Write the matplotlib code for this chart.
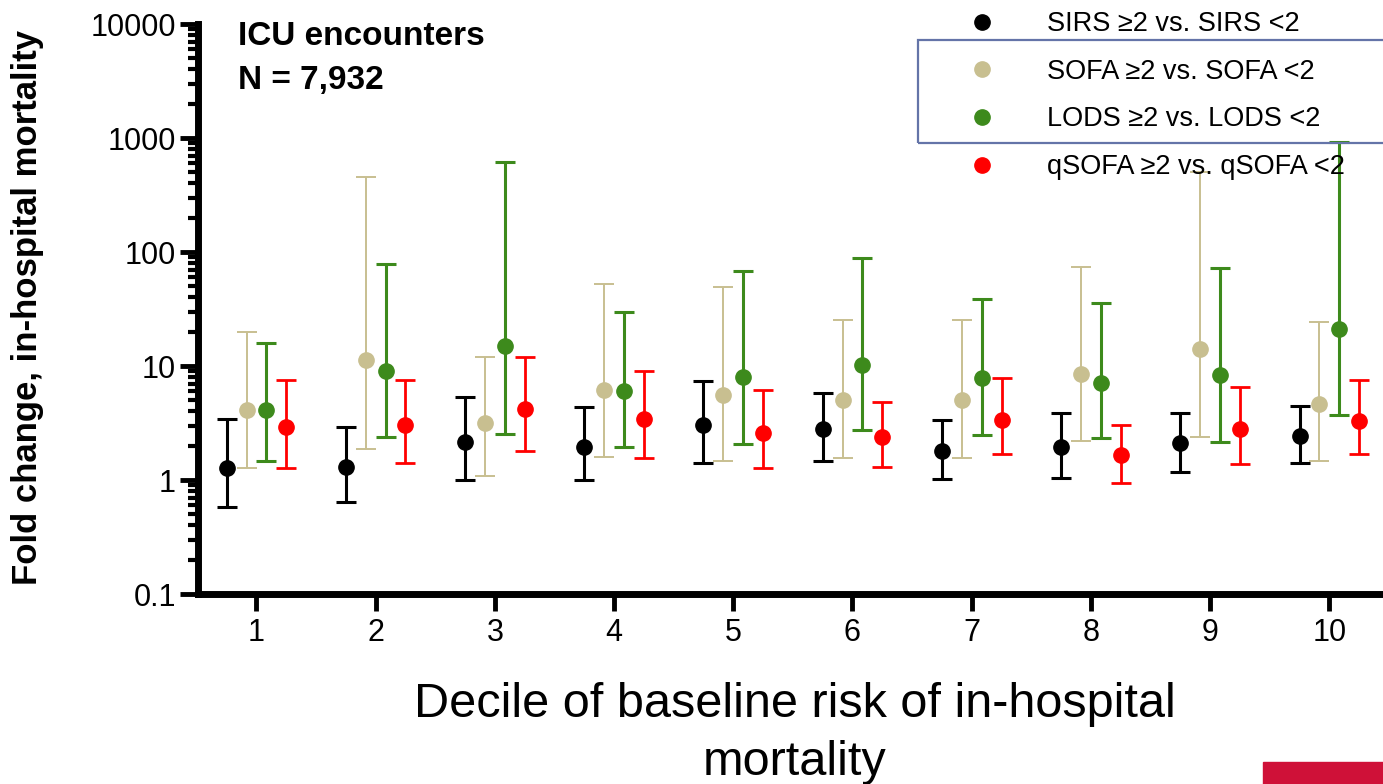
import matplotlib
matplotlib.use("Agg")
import matplotlib.pyplot as plt
from matplotlib.lines import Line2D
from matplotlib.patches import Rectangle
from matplotlib.ticker import LogLocator, NullFormatter
import numpy as np

plt.rcParams['font.family'] = ['Liberation Sans', 'DejaVu Sans']

deciles = [1, 2, 3, 4, 5, 6, 7, 8, 9, 10]

sirs_mid = [1.28, 1.31, 2.15, 1.96, 3.05, 2.79, 1.81, 1.96, 2.10, 2.44]
sirs_lo = [0.58, 0.64, 1.00, 0.99, 1.42, 1.47, 1.03, 1.05, 1.18, 1.42]
sirs_hi = [3.46, 2.94, 5.3, 4.33, 7.4, 5.8, 3.37, 3.86, 3.86, 4.5]

sofa_mid = [4.13, 11.2, 3.16, 6.2, 5.6, 5.06, 5.06, 8.5, 14.1, 4.67]
sofa_lo = [1.27, 1.87, 1.08, 1.6, 1.47, 1.55, 1.57, 2.22, 2.4, 1.47]
sofa_hi = [19.8, 453, 11.9, 52.8, 49, 25.2, 25.2, 74, 500, 24.3]

lods_mid = [4.13, 9.1, 14.9, 6.0, 7.96, 10.3, 7.85, 7.1, 8.4, 21.2]
lods_lo = [1.47, 2.38, 2.54, 1.94, 2.06, 2.76, 2.49, 2.33, 2.15, 3.68]
lods_hi = [16, 78, 614, 29.7, 68, 89, 39, 35.9, 73, 930]

qsofa_mid = [2.89, 3.05, 4.19, 3.42, 2.61, 2.4, 3.37, 1.66, 2.79, 3.26]
qsofa_lo = [1.28, 1.42, 1.8, 1.57, 1.28, 1.29, 1.68, 0.94, 1.38, 1.68]
qsofa_hi = [7.6, 7.6, 11.9, 9.1, 6.1, 4.83, 7.85, 3.05, 6.55, 7.5]

labels = [
    "SIRS \u22652 vs. SIRS <2",
    "SOFA \u22652 vs. SOFA <2",
    "LODS \u22652 vs. LODS <2",
    "qSOFA \u22652 vs. qSOFA <2",
]
colors = ["#000000", "#c8bf90", "#3d8a1c", "#ff0000"]
ytick_vals = [0.1, 1, 10, 100, 1000, 10000]
ytick_labels = ["0.1", "1", "10", "100", "1000", "10000"]

series = [
    (sirs_mid, sirs_lo, sirs_hi),
    (sofa_mid, sofa_lo, sofa_hi),
    (lods_mid, lods_lo, lods_hi),
    (qsofa_mid, qsofa_lo, qsofa_hi),
]
offsets = [-0.25, -0.083, 0.083, 0.25]
widths = [2.2, 1.4, 2.2, 2.0]

fig = plt.figure(figsize=(13.83, 7.84), dpi=100)
ax = fig.add_axes([198 / 1383, 1 - 594 / 784, 1 - 198 / 1383, (594 - 24) / 784])

x = np.array(deciles, dtype=float)
for (mid, lo, hi), off, col, lw in zip(series, offsets, colors, widths):
    mid = np.array(mid)
    yerr = [mid - np.array(lo), np.array(hi) - mid]
    ax.errorbar(x + off, mid, yerr=yerr, fmt="o", color=col, ecolor=col,
                markersize=11, elinewidth=lw, capsize=7, capthick=lw)

ax.set_yscale("log")
ax.set_ylim(0.1, 10000)
ax.set_xlim(0.51, 10.45)
ax.set_yticks(ytick_vals)
ax.set_yticklabels(ytick_labels)
ax.yaxis.set_minor_locator(LogLocator(base=10, subs=range(2, 10)))
ax.yaxis.set_minor_formatter(NullFormatter())
ax.set_xticks(deciles)
ax.set_xticklabels([str(d) for d in deciles])

for s in ["top", "right"]:
    ax.spines[s].set_visible(False)
for s in ["left", "bottom"]:
    ax.spines[s].set_linewidth(5)

ax.tick_params(axis="y", which="major", direction="out", length=13, width=3.5,
               labelsize=22, pad=3)
ax.tick_params(axis="y", which="minor", direction="out", length=7, width=3)
ax.tick_params(axis="x", which="major", direction="out", length=12, width=3.5,
               labelsize=22, pad=5)

fig.text(28 / 1383, 1 - 307 / 784, "Fold change, in-hospital mortality",
         rotation=90, ha="center", va="center", fontsize=25, fontweight="bold")

fig.text(238 / 1383, 1 - 21 / 784, "ICU encounters\nN = 7,932",
         ha="left", va="top", fontsize=24, fontweight="bold", linespacing=1.55)

fig.text(795 / 1383, 1 - 682 / 784,
         "Decile of baseline risk of in-hospital\nmortality",
         ha="center", va="top", fontsize=35, linespacing=1.38)

handles = [Line2D([], [], linestyle="none", marker="o", markersize=11,
                  color=c) for c in colors]
leg = ax.legend(handles, labels, loc="upper left",
                bbox_to_anchor=(955 / 1383, 1 - 11 / 784),
                bbox_transform=fig.transFigure, frameon=False, fontsize=19.5,
                handlelength=2, handletextpad=1.4, labelspacing=0.8,
                borderpad=0, borderaxespad=0)

fig.add_artist(Rectangle((918 / 1383, 1 - 143 / 784), 480 / 1383, 103 / 784,
                         transform=fig.transFigure, fill=False,
                         edgecolor="#6474a8", linewidth=1.6))

fig.add_artist(Rectangle((1263 / 1383, 0), 120 / 1383, 22 / 784,
                         transform=fig.transFigure, color="#cf1138"))

plt.savefig("out.png", dpi=100)
